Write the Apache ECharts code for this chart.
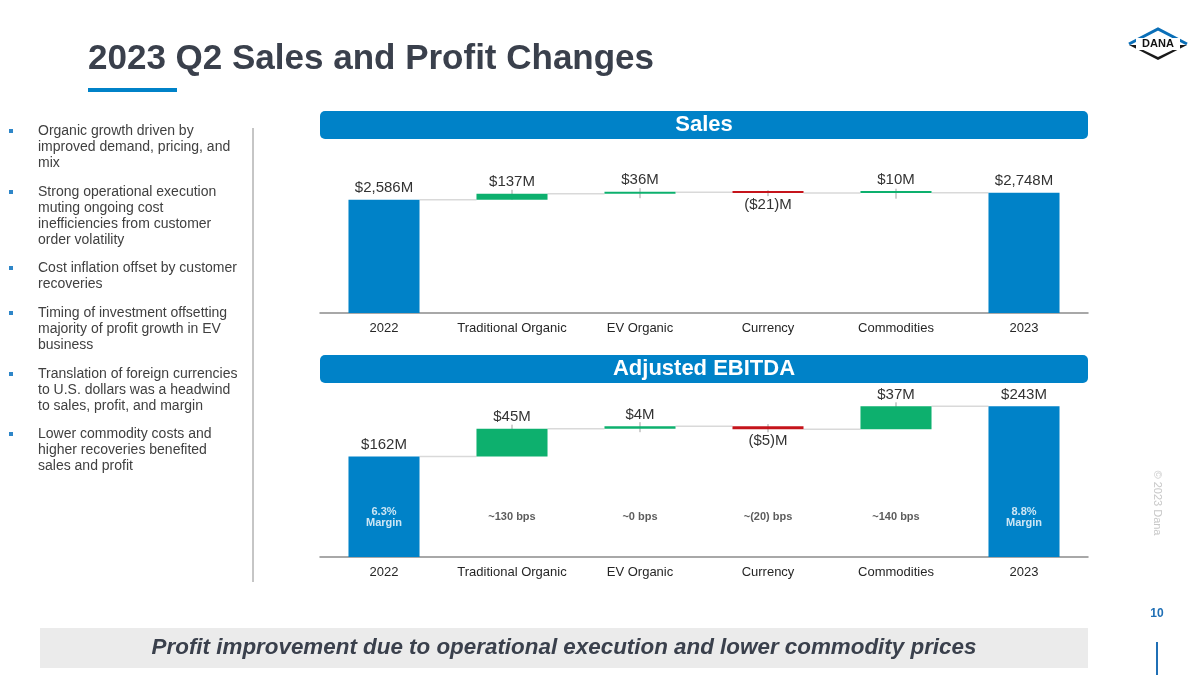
<!DOCTYPE html>
<html>
<head>
<meta charset="utf-8">
<script src="https://cdn.jsdelivr.net/npm/echarts@6/dist/echarts.min.js"></script>
<style>
html,body{margin:0;padding:0;background:#fff;}
#chart{width:1200px;height:675px;}
</style>
</head>
<body>
<div id="chart"></div>
<script>
// ---- Data ----
const categories = ['2022', 'Traditional Organic', 'EV Organic', 'Currency', 'Commodities', '2023'];
const salesValues = [2586, 137, 36, -21, 10, 2748];
const salesLabels = ['$2,586M', '$137M', '$36M', '($21)M', '$10M', '$2,748M'];
const ebitdaValues = [162, 45, 4, -5, 37, 243];
const ebitdaLabels = ['$162M', '$45M', '$4M', '($5)M', '$37M', '$243M'];
const marginNotes = ['6.3%\nMargin', '~130 bps', '~0 bps', '~(20) bps', '~140 bps', '8.8%\nMargin'];
const marginNoteLevel = 64; // EBITDA axis value where notes sit
const bullets = [
  ['Organic growth driven by', 'improved demand, pricing, and', 'mix'],
  ['Strong operational execution', 'muting ongoing cost', 'inefficiencies from customer', 'order volatility'],
  ['Cost inflation offset by customer', 'recoveries'],
  ['Timing of investment offsetting', 'majority of profit growth in EV', 'business'],
  ['Translation of foreign currencies', 'to U.S. dollars was a headwind', 'to sales, profit, and margin'],
  ['Lower commodity costs and', 'higher recoveries benefited', 'sales and profit']
];

const BLUE = '#0082C8', GREEN = '#0DB06E', RED = '#C5141B';
const BAR_W = 0.555;
const FONT = 'Liberation Sans, Arial, sans-serif';

function waterfall(values) {
  const n = values.length;
  const base = [], vis = [], level = [], sign = [];
  let run = 0;
  for (let i = 0; i < n; i++) {
    const v = values[i];
    if (i === 0 || i === n - 1) {
      base.push(0); vis.push(v); run = v; sign.push(0);
    } else if (v >= 0) {
      base.push(run); vis.push(v); run += v; sign.push(1);
    } else {
      run += v; base.push(run); vis.push(-v); sign.push(-1);
    }
    level.push(run);
  }
  return { base, vis, level, sign };
}

function buildSeries(values, labels, gridIndex, idPrefix) {
  const w = waterfall(values);
  const visData = w.vis.map((v, i) => ({
    value: v,
    itemStyle: { color: w.sign[i] === 0 ? BLUE : (w.sign[i] > 0 ? GREEN : RED) },
    label: { position: w.sign[i] < 0 ? 'bottom' : 'top' }
  }));
  return [
    {
      type: 'bar', xAxisIndex: gridIndex, yAxisIndex: gridIndex, stack: idPrefix,
      data: w.base, barWidth: (BAR_W * 100) + '%', itemStyle: { color: 'transparent' },
      silent: true, label: { show: false }
    },
    {
      type: 'bar', xAxisIndex: gridIndex, yAxisIndex: gridIndex, stack: idPrefix,
      data: visData, barWidth: (BAR_W * 100) + '%', barMinHeight: 2,
      label: {
        show: true, distance: 4, color: '#333333', fontSize: 15, fontFamily: FONT,
        formatter: p => labels[p.dataIndex]
      }
    },
    {
      type: 'custom', xAxisIndex: gridIndex, yAxisIndex: gridIndex,
      data: values.map((v, i) => [i, w.level[i]]),
      silent: true, z: 1,
      renderItem: function (params, api) {
        const i = params.dataIndex;
        const children = [];
        const bw = api.size([1, 0])[0] * BAR_W;
        if (i < values.length - 1) {
          const p1 = api.coord([i, w.level[i]]);
          const p2 = api.coord([i + 1, w.level[i]]);
          children.push({
            type: 'line',
            shape: { x1: p1[0] + bw / 2, y1: p1[1], x2: p2[0] - bw / 2, y2: p2[1] },
            style: { stroke: '#D9D9D9', lineWidth: 1.5 }
          });
        }
        if (w.sign[i] !== 0) {
          const top = api.coord([i, w.base[i] + w.vis[i]]);
          const bot = api.coord([i, w.base[i]]);
          const y1 = w.sign[i] > 0 ? top[1] - 4 : top[1] - 2;
          const y2 = w.sign[i] > 0 ? Math.min(top[1] + 6, bot[1] + 6) : bot[1] + 3;
          children.push({
            type: 'line',
            shape: { x1: top[0], y1: y1, x2: top[0], y2: y2 },
            style: { stroke: 'rgba(40,40,40,0.45)', lineWidth: 1 }
          });
        }
        return { type: 'group', children: children };
      }
    }
  ];
}

const series = []
  .concat(buildSeries(salesValues, salesLabels, 0, 'sales'))
  .concat(buildSeries(ebitdaValues, ebitdaLabels, 1, 'ebitda'));

series.push({
  type: 'scatter', xAxisIndex: 1, yAxisIndex: 1, symbol: 'rect', symbolSize: 1,
  itemStyle: { color: 'transparent' }, silent: true, z: 5,
  data: marginNotes.map((t, i) => ({
    value: [i, marginNoteLevel],
    label: { color: (i === 0 || i === marginNotes.length - 1) ? '#FFFFFF' : '#333333' }
  })),
  label: {
    show: true, position: 'inside', fontSize: 11, fontWeight: 'bold', lineHeight: 11,
    fontFamily: FONT,
    formatter: p => marginNotes[p.dataIndex]
  }
});

const catAxis = (gi) => ({
  type: 'category', gridIndex: gi, data: categories,
  axisLine: { lineStyle: { color: '#8C8C8C', width: 1.5 } },
  axisTick: { show: false },
  axisLabel: { interval: 0, color: '#262626', fontSize: 13, margin: 9, fontFamily: FONT }
});

const graphic = [];
// Title
graphic.push({ type: 'text', x: 88, y: 59, style: { text: '2023 Q2 Sales and Profit Changes', font: 'bold 35px ' + FONT, fill: '#3A404C', textVerticalAlign: 'middle', verticalAlign: 'middle' } });
graphic.push({ type: 'rect', shape: { x: 88, y: 88, width: 89, height: 4 }, style: { fill: BLUE } });
// Banners
function banner(y, h, text) {
  graphic.push({ type: 'rect', shape: { x: 320, y: y, width: 768, height: h, r: 5 }, style: { fill: BLUE } });
  graphic.push({ type: 'text', x: 704, y: y + h / 2, style: { text: text, font: 'bold 22px ' + FONT, fill: '#FFFFFF', textAlign: 'center', textVerticalAlign: 'middle', align: 'center', verticalAlign: 'middle' } });
}
banner(111, 28, 'Sales');
banner(355, 28, 'Adjusted EBITDA');
// Bullets
const bulletStarts = [131, 192, 268, 313, 374, 434];
bullets.forEach((lines, bi) => {
  const y0 = bulletStarts[bi];
  graphic.push({ type: 'rect', shape: { x: 9, y: y0 - 2, width: 4, height: 4 }, style: { fill: '#2E86C8' } });
  lines.forEach((ln, li) => {
    graphic.push({ type: 'text', x: 38, y: y0 + li * 16, style: { text: ln, font: '14px ' + FONT, fill: '#404040', textVerticalAlign: 'middle', verticalAlign: 'middle' } });
  });
});
// Separator
graphic.push({ type: 'line', shape: { x1: 253, y1: 128, x2: 253, y2: 582 }, style: { stroke: '#8C8C8C', lineWidth: 1 } });
// Footer
graphic.push({ type: 'rect', shape: { x: 40, y: 628, width: 1048, height: 40 }, style: { fill: '#EBEBEB' } });
graphic.push({ type: 'text', x: 564, y: 648, style: { text: 'Profit improvement due to operational execution and lower commodity prices', font: 'italic bold 22.4px ' + FONT, fill: '#3A404C', textAlign: 'center', textVerticalAlign: 'middle', align: 'center', verticalAlign: 'middle' } });
// Copyright vertical
graphic.push({ type: 'text', x: 1157, y: 503, rotation: -Math.PI / 2, style: { text: '\u00A9 2023 Dana', font: '11px ' + FONT, fill: '#C8C8C8', textAlign: 'center', textVerticalAlign: 'middle', align: 'center', verticalAlign: 'middle' } });
// Page number
graphic.push({ type: 'text', x: 1157, y: 614, style: { text: '10', font: 'bold 12px ' + FONT, fill: '#1F6FB5', textAlign: 'center', textVerticalAlign: 'middle', align: 'center', verticalAlign: 'middle' } });
graphic.push({ type: 'line', shape: { x1: 1157, y1: 642, x2: 1157, y2: 675 }, style: { stroke: '#1F6FB5', lineWidth: 2 } });
// Logo
graphic.push({ type: 'polygon', shape: { points: [[1128, 44], [1158, 28], [1188, 44], [1158, 60]] }, style: { fill: '#FFFFFF' } });
graphic.push({ type: 'polyline', shape: { points: [[1129, 44], [1158, 29], [1187, 44]] }, style: { stroke: '#0A6FB8', lineWidth: 3, fill: null } });
graphic.push({ type: 'polygon', shape: { points: [[1129, 45], [1187, 45], [1158, 60]] }, style: { fill: '#1A1A1A' } });
graphic.push({ type: 'polygon', shape: { points: [[1137, 47], [1179, 47], [1158, 57]] }, style: { fill: '#FFFFFF' } });
graphic.push({ type: 'rect', shape: { x: 1136, y: 38, width: 44, height: 12 }, style: { fill: '#FFFFFF' } });
graphic.push({ type: 'text', x: 1158, y: 44, style: { text: 'DANA', font: 'bold 11px ' + FONT, fill: '#111111', textAlign: 'center', textVerticalAlign: 'middle', align: 'center', verticalAlign: 'middle' } });

const option = {
  animation: false,
  backgroundColor: '#FFFFFF',
  grid: [
    { left: 320, width: 768, top: 151, bottom: 362 },
    { left: 320, width: 768, top: 371, bottom: 118 }
  ],
  xAxis: [catAxis(0), catAxis(1)],
  yAxis: [
    { type: 'value', gridIndex: 0, min: 0, max: 3700, show: false, splitLine: { show: false } },
    { type: 'value', gridIndex: 1, min: 0, max: 300, show: false, splitLine: { show: false } }
  ],
  series: series,
  graphic: graphic
};

const chart = echarts.init(document.getElementById('chart'), null, { renderer: 'canvas' });
chart.setOption(option);
</script>
</body>
</html>
